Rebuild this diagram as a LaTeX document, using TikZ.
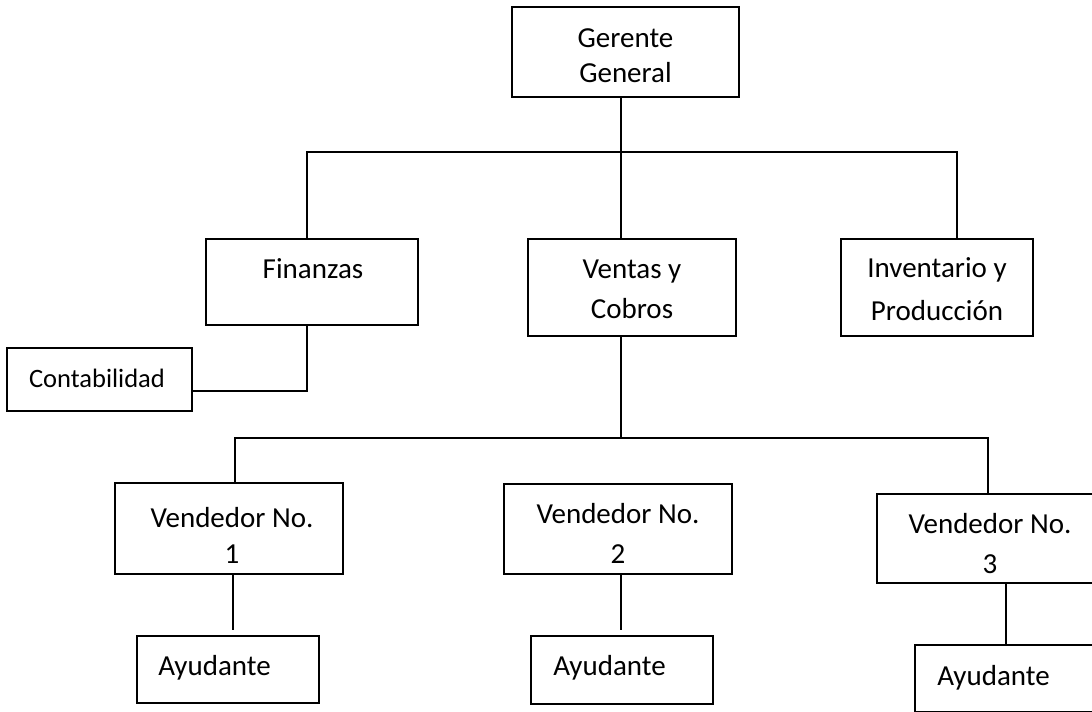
\documentclass[tikz,border=0pt]{standalone}
\usepackage{fontspec}
\setmainfont{Carlito}
\usepackage{xcolor}
\newcommand{\px}{0.75pt}
\tikzset{
	caja/.style={
		draw=black,          % black border
		line width=1.5pt,    % border thickness
		rectangle,           % shape
		inner sep=0pt        % no padding
	},
	texto/.style={
		font=\fontsize{21.75}{30}\selectfont,
		text=black,
		inner sep=0pt,
		align=center,
		anchor=base
	},
	linea/.style={draw=black, line width=1.5pt}
}

\begin{document}
\begin{tikzpicture}[x=0.75pt, y=-0.75pt]
	\clip (0,0) rectangle (1092,711);
	\fill[white] (0,0) rectangle (1092,711);

	% boxes
	\node[caja, minimum width=227*\px, minimum height=90*\px] (gerente) at (625.5,52) {};
	\node[caja, minimum width=212*\px, minimum height=86*\px] (finanzas) at (312,282) {};
	\node[caja, minimum width=208*\px, minimum height=97*\px] (ventas) at (632,287.5) {};
	\node[caja, minimum width=192*\px, minimum height=97*\px] (inventario) at (937,287.5) {};
	\node[caja, minimum width=185*\px, minimum height=63*\px] (contab) at (99.5,379.5) {};
	\node[caja, minimum width=228*\px, minimum height=91*\px] (vend1) at (229,528.5) {};
	\node[caja, minimum width=228*\px, minimum height=90*\px] (vend2) at (618,529) {};
	\node[caja, minimum width=226*\px, minimum height=89*\px] (vend3) at (990,538.5) {};
	\node[caja, minimum width=182*\px, minimum height=67*\px] (ayud1) at (228,669.5) {};
	\node[caja, minimum width=182*\px, minimum height=68*\px] (ayud2) at (622,670) {};
	\node[caja, minimum width=182*\px, minimum height=67*\px] (ayud3) at (1006,678.5) {};

	% texts (base = last line)
	\node[texto, font=\fontsize{21.75}{26.25}\selectfont] (tGerente) at (625.5,82) {Gerente\\General};
	\node[texto] (tFinanzas) at (313,278) {Finanzas};
	\node[texto] (tVentas) at (632,318) {Ventas y\\Cobros};
	\node[texto, font=\fontsize{21.75}{32}\selectfont] (tInventario) at (937,320) {Inventario y\\Producción};
	\node[texto, font=\fontsize{19.9}{24}\selectfont] (tContab) at (97,387) {Contabilidad};
	\node[texto, font=\fontsize{21.75}{27}\selectfont] (tVend1) at (232,563) {Vendedor No.\\1};
	\node[texto] (tVend2) at (618,563) {Vendedor No.\\2};
	\node[texto] (tVend3) at (990,573) {Vendedor No.\\3};
	\node[texto, anchor=base west] (tAyud1) at (158,675) {Ayudante};
	\node[texto, anchor=base west] (tAyud2) at (553,675) {Ayudante};
	\node[texto, anchor=base west] (tAyud3) at (937,685) {Ayudante};

	% junctions
	\coordinate (jCentro) at (621,152);
	\coordinate (jFin) at (307,152);
	\coordinate (jInv) at (957,152);
	\coordinate (jCont) at (307,391);
	\coordinate (jVentas) at (621,438);
	\coordinate (jV1) at (235,438);
	\coordinate (jV3) at (988,438);
	\coordinate (fin1) at (233,630);
	\coordinate (fin2) at (621,630);
	\coordinate (xA3) at (1006,600);

	% connectors
	\draw[linea] (gerente.south -| jCentro) -- (ventas.north -| jCentro);
	\draw[linea] (finanzas.north -| jFin) -- (jFin) -- (jInv) -- (inventario.north -| jInv);
	\draw[linea] (finanzas.south -| jCont) -- (jCont) -- (contab.east |- jCont);
	\draw[linea] (ventas.south -| jVentas) -- (jVentas);
	\draw[linea] (vend1.north -| jV1) -- (jV1) -- (jV3) -- (vend3.north -| jV3);
	\draw[linea] (vend1.south -| fin1) -- (fin1);
	\draw[linea] (vend2.south -| fin2) -- (fin2);
	\draw[linea] (vend3.south -| xA3) -- (ayud3.north -| xA3);
\end{tikzpicture}
\end{document}
